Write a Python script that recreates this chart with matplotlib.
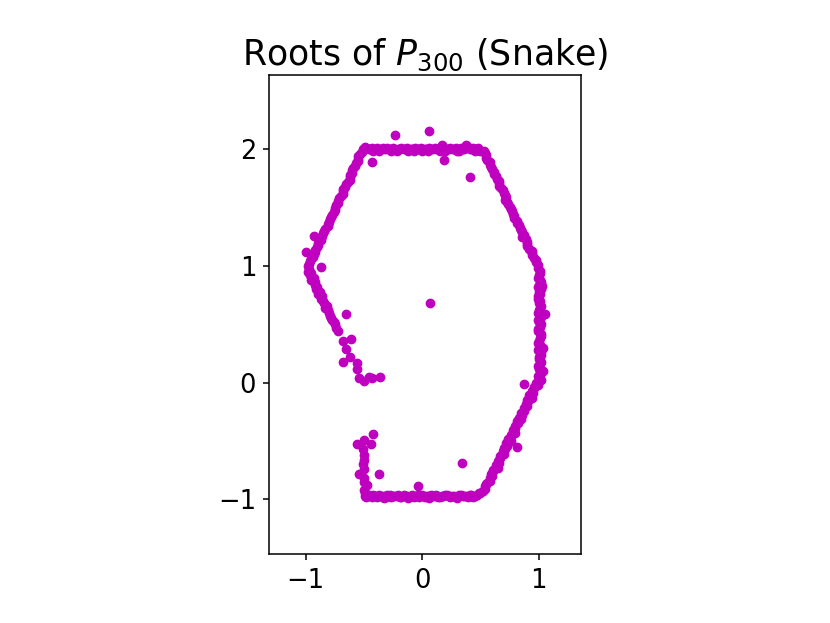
import matplotlib
matplotlib.use("Agg")
import matplotlib.pyplot as plt

bottom_re = [-0.49, -0.46, -0.43, -0.40, -0.37, -0.34, -0.31, -0.28, -0.25, -0.22, -0.19,
             -0.16, -0.13, -0.10, -0.07, -0.04, -0.01, 0.02, 0.05, 0.08, 0.11, 0.14,
             0.17, 0.20, 0.23, 0.26, 0.29, 0.32, 0.35, 0.38, 0.41, 0.44, 0.47,
             -0.48, -0.45, -0.42, -0.39, -0.36, -0.33, -0.30, -0.27, -0.24, -0.21, -0.18,
             -0.15, -0.12, -0.09, -0.06, -0.03, 0.00, 0.03, 0.06, 0.09, 0.12, 0.15, 0.18,
             0.21, 0.24, 0.27, 0.30, 0.33, 0.36, 0.39, 0.42, 0.45, 0.49]
bottom_im = [-0.97, -0.96, -0.98, -0.97, -0.96, -0.97, -0.98, -0.96, -0.97, -0.97, -0.98,
             -0.96, -0.97, -0.97, -0.98, -0.96, -0.97, -0.98, -0.97, -0.96, -0.97, -0.98,
             -0.97, -0.96, -0.97, -0.97, -0.98, -0.96, -0.97, -0.97, -0.96, -0.98, -0.96,
             -0.98, -0.97, -0.96, -0.98, -0.97, -0.99, -0.96, -0.98, -0.97, -0.96, -0.98,
             -0.97, -0.99, -0.96, -0.97, -0.98, -0.96, -0.97, -0.99, -0.97, -0.96, -0.98,
             -0.97, -0.96, -0.98, -0.97, -0.99, -0.96, -0.97, -0.98, -0.96, -0.97, -0.95]

lower_right_re = [0.52, 0.54, 0.56, 0.58, 0.59, 0.61, 0.63, 0.65, 0.67, 0.69, 0.70, 0.72, 0.74,
                  0.76, 0.78, 0.80, 0.81, 0.83, 0.85, 0.87, 0.89, 0.90, 0.92, 0.94, 0.96, 0.98,
                  0.50, 0.54, 0.55, 0.58, 0.60, 0.61, 0.65, 0.66, 0.67, 0.70, 0.71, 0.73, 0.76,
                  0.76, 0.80, 0.80, 0.82, 0.85, 0.86, 0.87, 0.90, 0.91, 0.94, 0.95, 0.96, 0.99]
lower_right_im = [-0.93, -0.89, -0.86, -0.82, -0.78, -0.75, -0.71, -0.67, -0.63, -0.59, -0.56,
                  -0.52, -0.48, -0.45, -0.41, -0.37, -0.33, -0.30, -0.26, -0.22, -0.18, -0.15,
                  -0.11, -0.07, -0.04, 0.00,
                  -0.95, -0.91, -0.87, -0.84, -0.80, -0.76, -0.73, -0.69, -0.65, -0.61, -0.57,
                  -0.54, -0.50, -0.46, -0.43, -0.39, -0.35, -0.31, -0.28, -0.24, -0.20, -0.16,
                  -0.13, -0.09, -0.05, -0.02]

right_re = [1.00, 1.02, 1.00, 1.01, 1.00, 1.02, 0.99, 1.01, 1.00, 1.02, 0.99, 1.01, 1.00, 1.02,
            0.99, 1.01, 1.00, 0.99, 1.01, 1.02, 1.00, 1.01, 1.00, 1.01, 1.04, 1.04, 1.03,
            1.02, 0.99, 1.02, 0.99, 1.02, 1.00, 1.02, 1.00, 0.99, 1.01, 1.02, 0.99, 1.02,
            0.99, 1.02, 1.00, 1.02, 1.01, 0.99, 1.00, 0.99, 1.02, 0.99, 1.01, 0.99]
right_im = [0.04, 0.08, 0.12, 0.16, 0.20, 0.24, 0.28, 0.32, 0.36, 0.40, 0.44, 0.48, 0.52, 0.56,
            0.60, 0.64, 0.68, 0.72, 0.76, 0.80, 0.84, 0.88, 0.92, 0.96, 0.30, 0.10, 0.83,
            0.02, 0.06, 0.10, 0.14, 0.18, 0.22, 0.26, 0.30, 0.34, 0.38, 0.42, 0.46, 0.50,
            0.54, 0.58, 0.62, 0.66, 0.70, 0.74, 0.78, 0.82, 0.86, 0.90, 0.94, 0.98]

upper_right_re = [0.98, 0.96, 0.94, 0.92, 0.90, 0.89, 0.87, 0.85, 0.83, 0.81, 0.79, 0.77, 0.75,
                  0.73, 0.72, 0.70, 0.68, 0.66, 0.64, 0.62, 0.60, 0.58, 0.56, 0.55, 0.53,
                  0.99, 0.98, 0.94, 0.94, 0.90, 0.90, 0.86, 0.86, 0.84, 0.81, 0.79, 0.78, 0.76,
                  0.74, 0.71, 0.71, 0.69, 0.66, 0.66, 0.63, 0.62, 0.59, 0.58, 0.55, 0.54]
upper_right_im = [1.03, 1.07, 1.11, 1.15, 1.19, 1.23, 1.27, 1.31, 1.35, 1.39, 1.43, 1.47, 1.51,
                  1.55, 1.59, 1.63, 1.67, 1.71, 1.75, 1.79, 1.83, 1.87, 1.91, 1.95, 1.99,
                  1.01, 1.05, 1.09, 1.13, 1.17, 1.21, 1.25, 1.29, 1.33, 1.37, 1.41, 1.45, 1.49,
                  1.53, 1.57, 1.61, 1.65, 1.69, 1.73, 1.77, 1.81, 1.85, 1.89, 1.93, 1.97]

top_re = [0.50, 0.47, 0.44, 0.41, 0.38, 0.35, 0.32, 0.29, 0.26, 0.23, 0.20, 0.17, 0.14, 0.11,
          0.08, 0.05, 0.02, -0.01, -0.04, -0.07, -0.10, -0.13, -0.16, -0.19, -0.22, -0.25,
          -0.28, -0.31, -0.34, -0.37, -0.40, -0.43, -0.46, -0.49,
          0.48, 0.45, 0.42, 0.39, 0.36, 0.33, 0.30, 0.27, 0.24, 0.21, 0.18, 0.15, 0.12, 0.09,
          0.06, 0.03, 0.00, -0.03, -0.06, -0.09, -0.12, -0.15, -0.18, -0.21, -0.24, -0.27,
          -0.30, -0.33, -0.36, -0.39, -0.42, -0.45, -0.48, -0.51]
top_im = [1.99, 2.00, 2.01, 2.00, 2.04, 2.00, 1.99, 2.01, 2.00, 2.00, 1.99, 2.04, 2.00, 2.01,
          2.00, 1.99, 2.00, 2.01, 2.00, 1.99, 2.00, 2.01, 2.00, 2.00, 1.99, 2.01, 2.00, 2.00,
          2.01, 1.99, 2.00, 2.01, 2.00, 2.02,
          2.01, 1.99, 2.00, 2.02, 2.00, 2.01, 1.99, 2.00, 2.01, 2.00, 2.02, 1.99, 2.00, 2.00,
          2.01, 2.00, 1.99, 2.00, 2.01, 2.00, 1.99, 2.00, 2.01, 2.00, 2.00, 1.99, 2.01, 2.00,
          2.00, 2.01, 1.99, 2.00, 2.01, 2.00]

upper_left_re = [-0.53, -0.55, -0.57, -0.59, -0.60, -0.62, -0.64, -0.66, -0.68, -0.70, -0.72,
                 -0.74, -0.75, -0.77, -0.79, -0.81, -0.83, -0.85, -0.87, -0.89, -0.90, -0.92,
                 -0.94, -0.96, -0.98,
                 -0.52, -0.55, -0.55, -0.58, -0.60, -0.62, -0.62, -0.65, -0.68, -0.68, -0.71,
                 -0.72, -0.75, -0.76, -0.78, -0.80, -0.81, -0.84, -0.86, -0.87, -0.89, -0.92,
                 -0.93, -0.95, -0.97]
upper_left_im = [1.96, 1.92, 1.88, 1.84, 1.80, 1.76, 1.72, 1.68, 1.64, 1.60, 1.56, 1.52, 1.48,
                 1.44, 1.40, 1.36, 1.32, 1.28, 1.24, 1.20, 1.16, 1.12, 1.08, 1.04, 1.00,
                 1.98, 1.94, 1.90, 1.86, 1.82, 1.78, 1.74, 1.70, 1.66, 1.62, 1.58, 1.54, 1.50,
                 1.46, 1.42, 1.38, 1.34, 1.30, 1.26, 1.22, 1.18, 1.14, 1.10, 1.06, 1.02]

lower_left_re = [-0.97, -0.95, -0.93, -0.92, -0.90, -0.88, -0.86, -0.85, -0.82, -0.81, -0.79,
                 -0.77, -0.75, -0.72, -0.68, -0.61, -0.65, -0.62, -0.68, -0.56, -0.56, -0.54,
                 -0.50, -0.46, -0.43,
                 -0.98, -0.96, -0.95, -0.92, -0.91, -0.89, -0.87, -0.84, -0.83, -0.80, -0.78,
                 -0.76, -0.74]
lower_left_im = [0.97, 0.94, 0.90, 0.86, 0.82, 0.78, 0.74, 0.70, 0.66, 0.62, 0.57, 0.54, 0.50,
                 0.44, 0.36, 0.37, 0.29, 0.22, 0.18, 0.17, 0.12, 0.04, 0.01, 0.05, 0.04,
                 0.95, 0.92, 0.88, 0.84, 0.80, 0.76, 0.72, 0.68, 0.64, 0.60, 0.55, 0.52, 0.47]

left_re = [-0.56, -0.50, -0.44, -0.51, -0.50, -0.50, -0.51, -0.54, -0.50, -0.50, -0.47,
           -0.50, -0.50, -0.49]
left_im = [-0.53, -0.49, -0.53, -0.57, -0.62, -0.66, -0.70, -0.78, -0.74, -0.82, -0.88,
           -0.85, -0.92, -0.95]

stray_re = [-0.23, 0.06, -0.43, 0.19, 0.41, 0.07, -0.65, -0.36, 0.87, -0.42, -0.37, -0.04,
            0.34, 0.81, 1.05, -0.93, -1.00, -0.87]
stray_im = [2.12, 2.16, 1.89, 1.91, 1.76, 0.68, 0.59, 0.05, -0.01, -0.44, -0.78, -0.89,
            -0.69, -0.55, 0.59, 1.26, 1.12, 0.99]

x_ticks = [-1, 0, 1]
y_ticks = [-1, 0, 1, 2]

re = (bottom_re + lower_right_re + right_re + upper_right_re + top_re + upper_left_re
      + lower_left_re + left_re + stray_re)
im = (bottom_im + lower_right_im + right_im + upper_right_im + top_im + upper_left_im
      + lower_left_im + left_im + stray_im)

fig, ax = plt.subplots(figsize=(8.3, 6.23), dpi=100)
ax.scatter(re, im, s=36, color="m", zorder=2)
ax.set_xlim(-1.31, 1.365)
ax.set_ylim(-1.474, 2.64)
ax.set_aspect("equal")
ax.set_xticks(x_ticks)
ax.set_yticks(y_ticks)
ax.tick_params(labelsize=18.5, length=4.5, width=1.1, pad=5)
for sp in ax.spines.values():
    sp.set_linewidth(1.1)
ax.set_title(r"Roots of $P_{300}$ (Snake)", fontsize=25, pad=7)
fig.savefig("out.png", dpi=100)
